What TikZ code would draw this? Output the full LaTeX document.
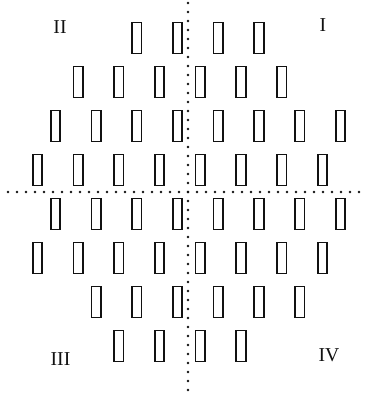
\documentclass[tikz,border=0pt]{standalone}
\usepackage{fontspec}
\setmainfont{Liberation Serif}
\definecolor{padInk}{HTML}{111111}
\tikzset{
  pad/.style={draw=padInk, line width=1.15pt, rectangle, inner sep=0pt, minimum width=0.235cm, minimum height=0.775cm},
  quad axis/.style={draw=padInk, line width=1.8pt, line cap=round, dash pattern=on 0pt off 6.4pt},
  quad label/.style={font=\fontsize{14}{16}\selectfont, text=padInk},
}

\begin{document}
\begin{tikzpicture}[x=0.025cm, y=-0.025cm]
  \useasboundingbox (0,0) rectangle (366,400);
  % dotted axes
  \coordinate (ax top) at (188,3);
  \coordinate (ax bottom) at (188,395);
  \coordinate (ax left) at (8,192);
  \coordinate (ax right) at (365,192);
  \draw[quad axis] (ax top) -- (ax bottom);
  \draw[quad axis] (ax left) -- (ax right);

  % pads, row by row: row/first/last/x offset
  \foreach \r/\a/\b/\o in {1/2/5/55.5, 2/1/6/37.5, 3/0/7/55.5, 4/0/7/37.5,
                           5/0/7/55.5, 6/0/7/37.5, 7/1/6/55.5, 8/2/5/37.5} {
    \foreach \k in {\a,...,\b} {
      \node[pad] (pad-\r-\k) at ({\o+40.7*\k}, {38+44*(\r-1)}) {};
    }
  }

  % quadrant labels
  \node[quad label] (quad-I) at (323,25) {I};
  \node[quad label] (quad-II) at (60,27.5) {II};
  \node[quad label] (quad-III) at (60.5,359.5) {III};
  \node[quad label] (quad-IV) at (329,355) {IV};
\end{tikzpicture}
\end{document}
